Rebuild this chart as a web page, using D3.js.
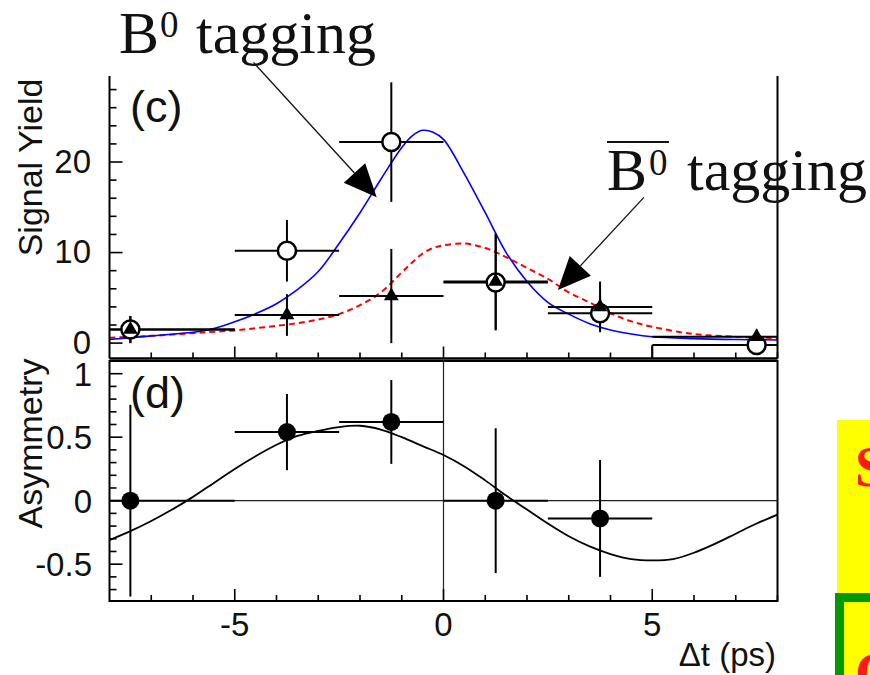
<!DOCTYPE html>
<html><head><meta charset="utf-8">
<script src="https://cdn.jsdelivr.net/npm/d3@7"></script>
<style>body{margin:0;background:#fff}svg{display:block}</style>
</head><body>
<svg id="c" width="870" height="675"></svg>
<script>
// ---------------- data ----------------
const binCenters = [-7.5, -3.75, -1.25, 1.25, 3.75, 7.5];
const binLo = [-8, -5, -2.5, 0, 2.5, 5];
const binHi = [-5, -2.5, 0, 2.5, 5, 8];
const b0Yield = [1.5, 10.2, 22.2, 6.7, 3.3, -0.2];
const b0Err = [1.5, 3.4, 6.6, 5.3, 2.0, 0.8];
const b0barYield = [1.5, 3.1, 5.2, 6.8, 4.0, 0.7];
const b0barErr = [1.5, 2.3, 5.2, 5.3, 2.8, 0.8];

const fitT = [-8, -7, -6, -5.5, -5, -4.5, -4, -3.5, -3, -2.5, -2, -1.5, -1, -0.75, -0.5, -0.25, 0, 0.5, 1, 1.5, 2, 2.5, 3, 3.5, 4, 4.5, 5, 6, 7, 8];
const fitB0 = [0.4, 0.8, 1.2, 1.6, 2.35, 3.25, 4.35, 5.9, 7.9, 11.0, 14.4, 18.1, 21.6, 22.9, 23.5, 23.3, 22.5, 18.7, 14.4, 10.0, 6.8, 4.5, 3.2, 2.15, 1.45, 1.0, 0.7, 0.5, 0.4, 0.35];
const fitB0bar = [0.6, 0.8, 1.1, 1.25, 1.4, 1.65, 1.9, 2.2, 2.6, 3.2, 4.2, 5.6, 7.8, 8.9, 9.9, 10.5, 10.8, 11.0, 10.5, 9.5, 8.3, 7.1, 5.6, 4.5, 3.3, 2.4, 1.8, 1.0, 0.7, 0.55];

const asymX = [-7.5, -3.75, -1.25, 1.25, 3.75];
const asymLo = [-8, -5, -2.5, 0, 2.5];
const asymHi = [-5, -2.5, 0, 2.5, 5];
const asymVal = [0.0, 0.54, 0.62, 0.0, -0.14];
const asymErr = [0.755, 0.3, 0.33, 0.57, 0.46];

const asymT = [-8, -7.5, -7, -6.5, -6, -5.5, -5, -4.5, -4, -3.5, -3, -2.5, -2, -1.5, -1, -0.5, 0, 0.5, 1, 1.5, 2, 2.5, 3, 3.5, 4, 4.5, 5, 5.5, 6, 6.5, 7, 7.5, 8];
const asymFit = [-0.31, -0.24, -0.16, -0.07, 0.03, 0.14, 0.25, 0.35, 0.44, 0.51, 0.55, 0.58, 0.59, 0.56, 0.50, 0.43, 0.36, 0.27, 0.16, 0.04, -0.07, -0.18, -0.28, -0.36, -0.42, -0.46, -0.47, -0.46, -0.41, -0.34, -0.26, -0.18, -0.11];

const xMajor = [-5, 0, 5];
const xMinor = d3.range(-7, 9, 1);
const yTopMajor = [0, 10, 20];
const yTopMinor = d3.range(0, 30, 2);
const yBotMajor = [-0.5, 0, 0.5, 1];
const yBotMinor = d3.range(-7, 11, 1).map(v => v / 10);
const xTickLabels = ["-5", "0", "5"];
const yTopTickLabels = ["0", "10", "20"];
const yBotTickLabels = ["-0.5", "0", "0.5", "1"];

// annotation arrows in data coordinates (top panel)
const arrowFrom = [[-4.55, 31.0], [4.8, 16.1]];
const arrowTo = [[-1.6, 16.1], [2.74, 5.86]];

// ---------------- scales ----------------
const svg = d3.select("#c");
const x = d3.scaleLinear().domain([-8, 8]).range([109.5, 777.5]);
const yT = d3.scaleLinear().domain([-1.7, 29.5]).range([358.5, 76]);
const yB = d3.scaleLinear().domain([-0.79, 1.1]).range([601, 361]);

const sans = "'Liberation Sans', Arial, Helvetica, sans-serif";
const serif = "'Liberation Serif', 'Times New Roman', serif";
const smooth = d3.curveCatmullRom.alpha(0.5);

// ---------------- decorative box at right ----------------
svg.append("rect").attr("x", 837).attr("y", 420).attr("width", 40).attr("height", 180).attr("fill", "#ffff00");
svg.append("text").attr("x", 855).attr("y", 486).attr("font-family", serif).attr("font-weight", "bold")
  .attr("font-size", 56).attr("fill", "#ff1a1a").text("S");
svg.append("rect").attr("x", 839.5).attr("y", 597.5).attr("width", 60).attr("height", 120)
  .attr("fill", "#ffff00").attr("stroke", "#009900").attr("stroke-width", 9);
svg.append("text").attr("x", 855).attr("y", 692).attr("font-family", serif).attr("font-weight", "bold")
  .attr("font-size", 56).attr("fill", "#ff1a1a").text("C");

// ---------------- top panel ----------------
const gT = svg.append("g");
gT.append("path").datum(fitT.map((t, i) => [t, fitB0bar[i]]))
  .attr("fill", "none").attr("stroke", "#ff0000").attr("stroke-width", 2).attr("stroke-dasharray", "6,4")
  .attr("d", d3.line().x(d => x(d[0])).y(d => yT(d[1])).curve(smooth));
gT.append("path").datum(fitT.map((t, i) => [t, fitB0[i]]))
  .attr("fill", "none").attr("stroke", "#0000ff").attr("stroke-width", 1.6)
  .attr("d", d3.line().x(d => x(d[0])).y(d => yT(d[1])).curve(smooth));

function errBars(g, xs, lo, hi, ys, es, ysc) {
  xs.forEach((xc, i) => {
    g.append("line").attr("x1", x(lo[i])).attr("x2", x(hi[i])).attr("y1", ysc(ys[i])).attr("y2", ysc(ys[i]))
      .attr("stroke", "#000").attr("stroke-width", 2);
    g.append("line").attr("x1", x(xc)).attr("x2", x(xc)).attr("y1", ysc(ys[i] - es[i])).attr("y2", ysc(ys[i] + es[i]))
      .attr("stroke", "#000").attr("stroke-width", 2);
  });
}
errBars(gT, binCenters, binLo, binHi, b0Yield, b0Err, yT);
errBars(gT, binCenters, binLo, binHi, b0barYield, b0barErr, yT);
gT.append("line").attr("x1", x(binLo[5])).attr("x2", x(binLo[5]))
  .attr("y1", yT(b0Yield[5])).attr("y2", yT(-1.7)).attr("stroke", "#000").attr("stroke-width", 2);

binCenters.forEach((xc, i) => {
  gT.append("circle").attr("cx", x(xc)).attr("cy", yT(b0Yield[i])).attr("r", 9)
    .attr("fill", "#fff").attr("stroke", "#000").attr("stroke-width", 2.5);
});
const tri = d3.symbol().type(d3.symbolTriangle).size(95);
binCenters.forEach((xc, i) => {
  gT.append("path").attr("d", tri()).attr("transform", `translate(${x(xc)},${yT(b0barYield[i])})`).attr("fill", "#000");
});

gT.append("line").attr("x1", x(-8)).attr("x2", x(-8)).attr("y1", yT(29.5)).attr("y2", yT(-1.7)).attr("stroke", "#000").attr("stroke-width", 2);
gT.append("line").attr("x1", x(-8)).attr("x2", x(8)).attr("y1", yT(-1.7)).attr("y2", yT(-1.7)).attr("stroke", "#000").attr("stroke-width", 2.5);
yTopMinor.forEach(v => {
  const major = yTopMajor.includes(v);
  gT.append("line").attr("x1", x(-8)).attr("x2", x(-8) + (major ? 13 : 7)).attr("y1", yT(v)).attr("y2", yT(v))
    .attr("stroke", "#000").attr("stroke-width", 1.6);
});
xMinor.forEach(v => {
  const major = xMajor.includes(v);
  gT.append("line").attr("x1", x(v)).attr("x2", x(v)).attr("y1", yT(-1.7)).attr("y2", yT(-1.7) - (major ? 12 : 6))
    .attr("stroke", "#000").attr("stroke-width", 1.6);
});
yTopMajor.forEach((v, i) => {
  gT.append("text").attr("x", 91).attr("y", yT(v)).attr("dy", "0.33em").attr("text-anchor", "end")
    .attr("font-family", sans).attr("font-size", 33).attr("fill", "#111").text(yTopTickLabels[i]);
});
svg.append("text").attr("transform", `translate(42,${(78 + 257) / 2}) rotate(-90)`).attr("text-anchor", "middle")
  .attr("font-family", sans).attr("font-size", 34).attr("fill", "#111").text("Signal Yield");
svg.append("text").attr("x", 130).attr("y", 122).attr("font-family", sans).attr("font-size", 45).attr("fill", "#111").text("(c)");

function arrow(from, to) {
  const p0 = [x(from[0]), yT(from[1])], p1 = [x(to[0]), yT(to[1])];
  const dx = p1[0] - p0[0], dy = p1[1] - p0[1], L = Math.hypot(dx, dy);
  const ux = dx / L, uy = dy / L, len = 33, hw = 14.5;
  const bx = p1[0] - ux * len, by = p1[1] - uy * len;
  svg.append("line").attr("x1", p0[0]).attr("y1", p0[1]).attr("x2", bx).attr("y2", by).attr("stroke", "#111").attr("stroke-width", 1.3);
  svg.append("path").attr("d", `M${p1[0]},${p1[1]}L${bx - uy * hw},${by + ux * hw}L${bx + uy * hw},${by - ux * hw}Z`).attr("fill", "#000");
}
arrowFrom.forEach((f, i) => arrow(f, arrowTo[i]));

const t1 = svg.append("text").attr("font-family", serif).attr("fill", "#111");
t1.append("tspan").attr("x", 119).attr("y", 53).attr("font-size", 60).text("B");
t1.append("tspan").attr("x", 160).attr("y", 37).attr("font-size", 37).text("0");
t1.append("tspan").attr("x", 196).attr("y", 53).attr("font-size", 60).text("tagging");
const t2 = svg.append("text").attr("font-family", serif).attr("fill", "#111");
t2.append("tspan").attr("x", 607).attr("y", 190).attr("font-size", 60).text("B");
t2.append("tspan").attr("x", 649).attr("y", 175).attr("font-size", 37).text("0");
t2.append("tspan").attr("x", 687).attr("y", 190).attr("font-size", 60).text("tagging");
svg.append("line").attr("x1", 607).attr("x2", 669).attr("y1", 142).attr("y2", 142).attr("stroke", "#111").attr("stroke-width", 2);

gT.append("line").attr("x1", x(8)).attr("x2", x(8)).attr("y1", yT(29.5)).attr("y2", yT(-1.7)).attr("stroke", "#000").attr("stroke-width", 2);

// ---------------- bottom panel ----------------
const gB = svg.append("g");
gB.append("line").attr("x1", x(-8)).attr("x2", x(8)).attr("y1", yB(0)).attr("y2", yB(0)).attr("stroke", "#222").attr("stroke-width", 1.2);
gB.append("line").attr("x1", x(0)).attr("x2", x(0)).attr("y1", yB(1.1)).attr("y2", yB(-0.79)).attr("stroke", "#222").attr("stroke-width", 1.2);
gB.append("path").datum(asymT.map((t, i) => [t, asymFit[i]]))
  .attr("fill", "none").attr("stroke", "#000").attr("stroke-width", 1.8)
  .attr("d", d3.line().x(d => x(d[0])).y(d => yB(d[1])).curve(smooth));
errBars(gB, asymX, asymLo, asymHi, asymVal, asymErr, yB);
asymX.forEach((xc, i) => {
  gB.append("circle").attr("cx", x(xc)).attr("cy", yB(asymVal[i])).attr("r", 9).attr("fill", "#000");
});
gB.append("rect").attr("x", x(-8)).attr("y", yB(1.1)).attr("width", x(8) - x(-8)).attr("height", yB(-0.79) - yB(1.1))
  .attr("fill", "none").attr("stroke", "#000").attr("stroke-width", 2);
yBotMinor.forEach(v => {
  const major = yBotMajor.some(m => Math.abs(m - v) < 1e-9);
  gB.append("line").attr("x1", x(-8)).attr("x2", x(-8) + (major ? 13 : 7)).attr("y1", yB(v)).attr("y2", yB(v))
    .attr("stroke", "#000").attr("stroke-width", 1.6);
});
xMinor.forEach(v => {
  const major = xMajor.includes(v);
  gB.append("line").attr("x1", x(v)).attr("x2", x(v)).attr("y1", yB(-0.79)).attr("y2", yB(-0.79) - (major ? 12 : 6))
    .attr("stroke", "#000").attr("stroke-width", 1.6);
});
yBotMajor.forEach((v, i) => {
  gB.append("text").attr("x", 92).attr("y", yB(v)).attr("dy", "0.37em").attr("text-anchor", "end")
    .attr("font-family", sans).attr("font-size", 33).attr("fill", "#111").text(yBotTickLabels[i]);
});
xMajor.forEach((v, i) => {
  gB.append("text").attr("x", x(v)).attr("y", 636).attr("text-anchor", "middle")
    .attr("font-family", sans).attr("font-size", 33).attr("fill", "#111").text(xTickLabels[i]);
});
svg.append("text").attr("transform", `translate(42,${(360 + 527) / 2}) rotate(-90)`).attr("text-anchor", "middle")
  .attr("font-family", sans).attr("font-size", 34).attr("fill", "#111").text("Asymmetry");
svg.append("text").attr("x", 130).attr("y", 408).attr("font-family", sans).attr("font-size", 45).attr("fill", "#111").text("(d)");
svg.append("text").attr("x", 776).attr("y", 666).attr("text-anchor", "end")
  .attr("font-family", sans).attr("font-size", 33).attr("fill", "#111").text("\u0394t (ps)");
</script>
</body></html>
